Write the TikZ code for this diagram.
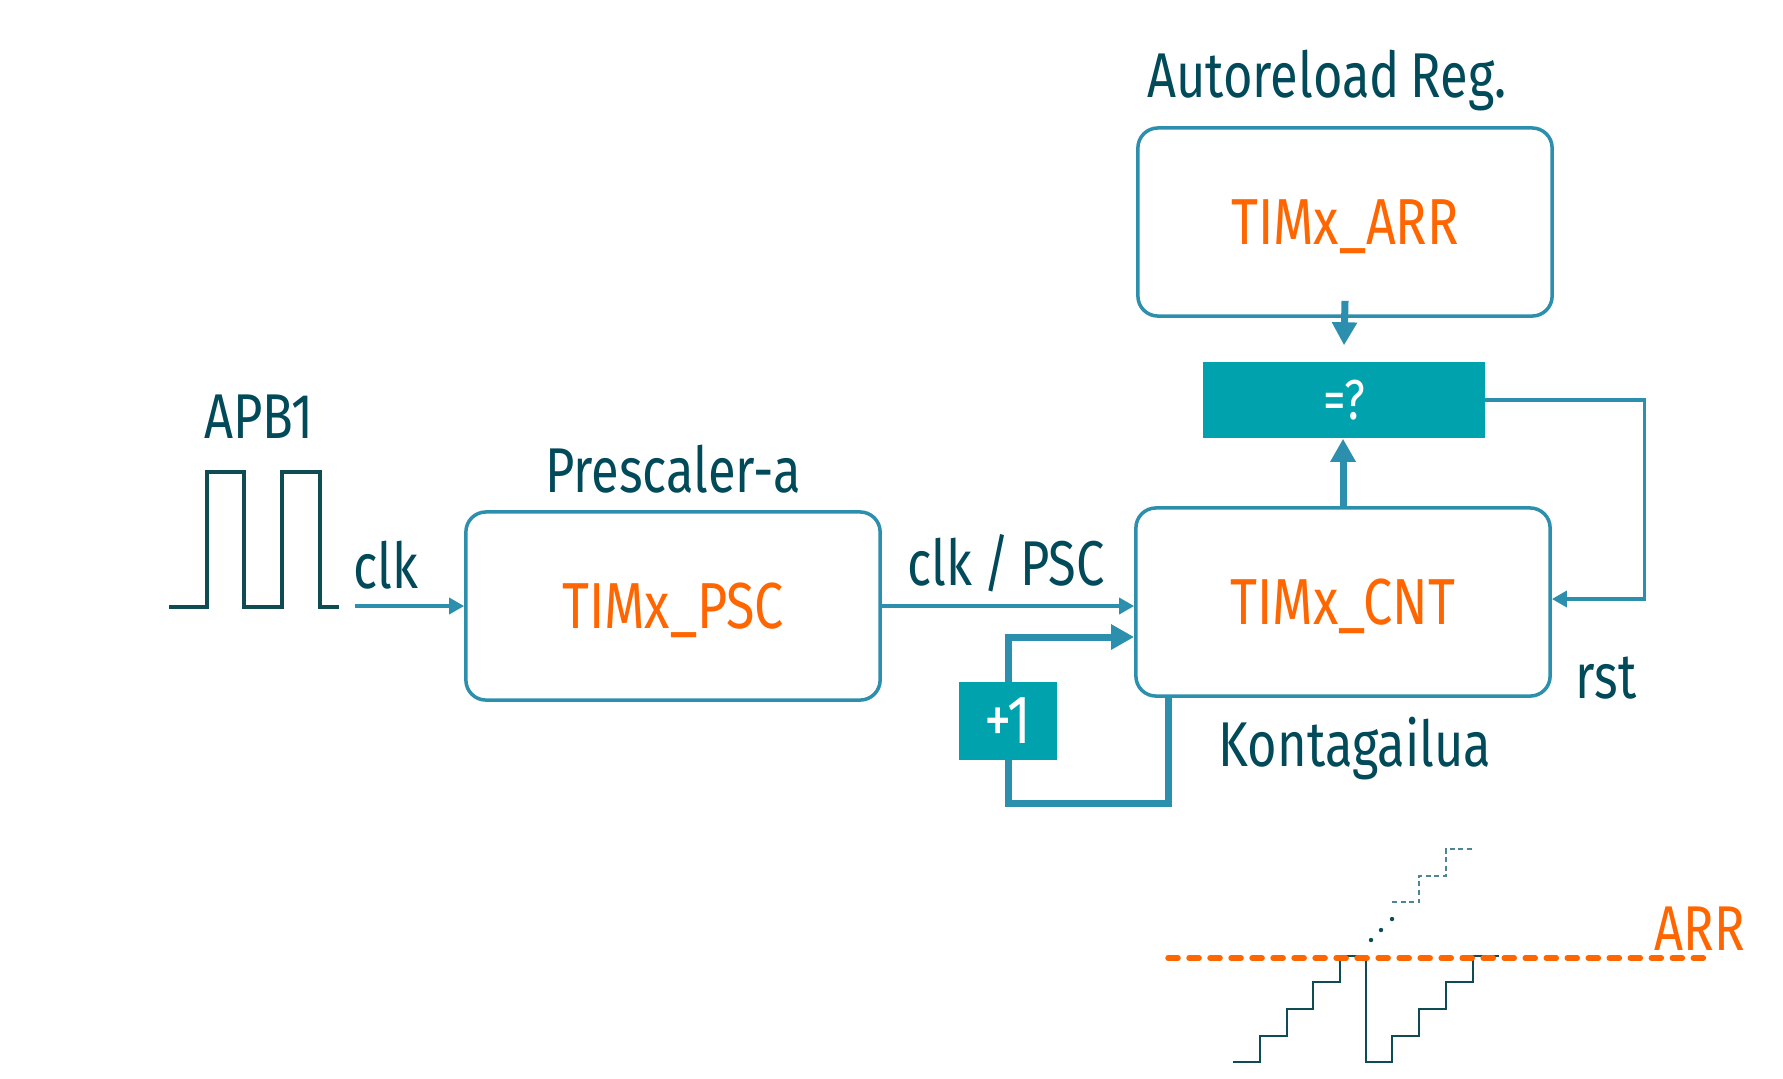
\documentclass[tikz,border=0pt]{standalone}
\usepackage{fontspec}
\setmainfont{Fira Sans}[FakeStretch=0.8, WordSpace=0.8]
\usetikzlibrary{arrows.meta}
\definecolor{boxline}{HTML}{2C8FAD}
\definecolor{opfill}{HTML}{00A3AD}
\definecolor{darktext}{HTML}{004A59}
\definecolor{regtext}{HTML}{FF6600}
\definecolor{stairline}{HTML}{0F4B52}
\definecolor{stairdash}{HTML}{4D8593}
\tikzset{
  regbox/.style={draw=boxline, line width=0.035cm, rounded corners=0.2cm,
    minimum width=4.14cm, minimum height=1.88cm, text=regtext,
    font=\fontsize{18.5}{20}\selectfont, text depth=0pt},
  opbox/.style={fill=opfill, text=white, font=\fontsize{16}{18}\selectfont,
    text depth=0pt, inner sep=0pt},
  lbl/.style={text=darktext, font=\fontsize{18}{20}\selectfont, anchor=base, inner sep=0pt},
  thinarrow/.style={draw=boxline, line width=0.035cm, -{Triangle[length=0.15cm,width=0.16cm]}},
  thickarrow/.style={draw=boxline, line width=0.07cm, -{Triangle[length=0.23cm,width=0.24cm]}},
}
\begin{document}
\begin{tikzpicture}[x=0.01cm, y=-0.01cm]
\fill[white] (0,0) rectangle (1783,1078);
\useasboundingbox (0,0) rectangle (1783,1078);

\node[regbox] (psc) at (673,606) {TIMx\_PSC};
\node[regbox] (cnt) at (1343,602) {TIMx\_CNT};
\node[regbox] (arr) at (1345,222) {TIMx\_ARR};
\node[opbox, minimum width=2.81cm, minimum height=0.76cm] (cmp) at (1344,400) {=?};
\node[opbox, minimum width=0.97cm, minimum height=0.77cm, font=\fontsize{19.5}{20}\selectfont] (inc) at (1008,721) {+1};

\node[lbl] (apb) at (259,438) {APB1};
\node[lbl] (clk) at (386,588) {clk};
\node[lbl] (prescaler) at (673,492) {Prescaler-a};
\node[lbl] (clkdiv) at (1006,585) {clk / PSC};
\node[lbl] (autoreload) at (1327,97) {Autoreload Reg.};
\node[lbl] (kontagailu) at (1355,766) {Kontagailua};
\node[lbl] (rst) at (1606,698) {rst};
\node[lbl, text=regtext] (arrlbl) at (1700,950) {ARR};

\draw[stairline, line width=0.04cm] (169,607) -- (207,607) -- (207,472) -- (244,472) -- (244,607)
  -- (282,607) -- (282,472) -- (320,472) -- (320,607) -- (339,607);

\coordinate (clkin) at (355,606);
\draw[thinarrow] (clkin) -- (clkin -| psc.west);
\draw[thinarrow] (psc.east) -- (psc.east -| cnt.west);
\draw[thickarrow] ([yshift=0.17cm]arr.south) -- ([yshift=0.16cm]cmp.north);
\draw[thickarrow] (cnt.north) -- (cnt.north |- cmp.south);
\draw[thinarrow] (cmp.east) -- ++(159,0) |- ([yshift=0.03cm]cnt.east);
\draw[thickarrow] (inc.north) |- ([yshift=-0.35cm]cnt.west);
\draw[boxline, line width=0.07cm] ([xshift=0.34cm]cnt.south west) -- ++(0,106) -| (inc.south);

\draw[stairline, line width=0.025cm] (1233,1062) -- (1260,1062) -- (1260,1036) -- (1287,1036)
  -- (1287,1009) -- (1313,1009) -- (1313,982) -- (1340,982) -- (1340,956) -- (1366,956)
  -- (1366,1062) -- (1392,1062) -- (1392,1036) -- (1419,1036) -- (1419,1009) -- (1446,1009)
  -- (1446,982) -- (1473,982) -- (1473,956) -- (1499,956);
\draw[stairdash, line width=0.02cm, dash pattern=on 0.05cm off 0.035cm] (1392,902) -- (1419,902)
  -- (1419,876) -- (1446,876) -- (1446,849) -- (1472,849);
\fill[stairline] (1371,940) circle (0.022cm) (1381,930) circle (0.022cm) (1392,919) circle (0.022cm);
\draw[regtext, line width=0.055cm, dash pattern=on 0.1cm off 0.11cm, line cap=round] (1168,958) -- (1712,958);
\end{tikzpicture}
\end{document}
